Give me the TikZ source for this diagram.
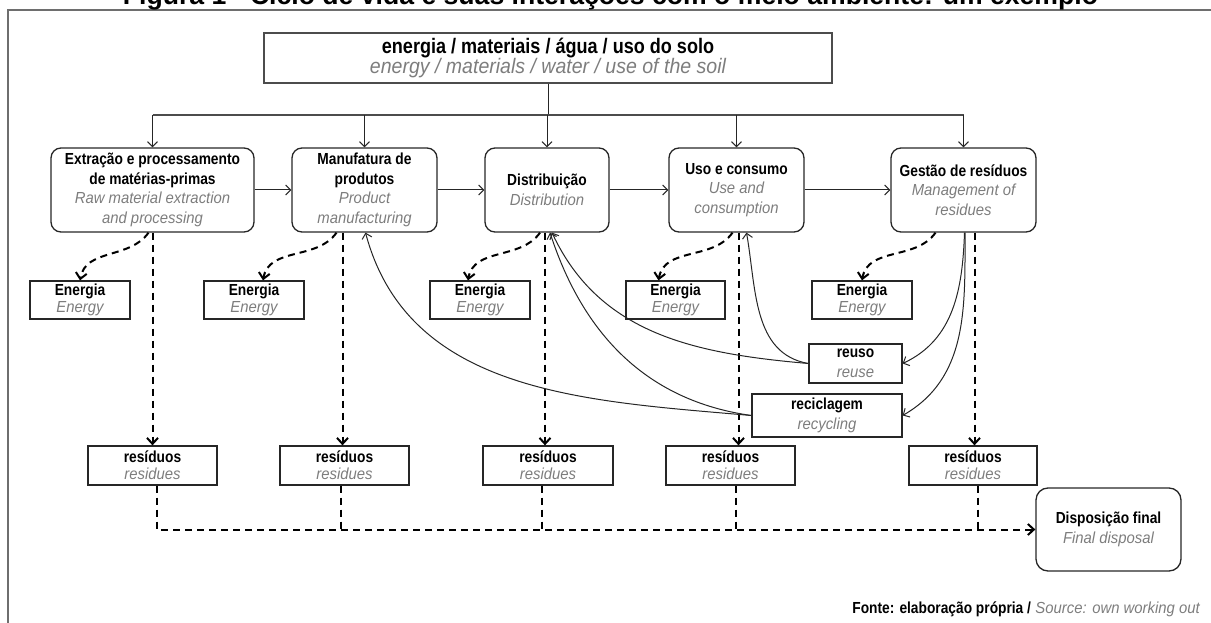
\documentclass[tikz,border=0pt]{standalone}
\usepackage{fontspec}
\usetikzlibrary{arrows.meta}
\setmainfont{Liberation Sans}
\newfontfamily\pfont{Liberation Sans}[FakeStretch=0.86]
\newfontfamily\efontfam{Liberation Sans}[FakeStretch=0.93]
\definecolor{engray}{RGB}{125,125,125}
\definecolor{framegray}{RGB}{110,110,110}
\newcommand\ptx[1]{{\pfont\bfseries #1}}
\newcommand\enx[1]{{\efontfam\itshape\color{engray}#1}}
\begin{document}
\begin{tikzpicture}[x=1pt,y=-1pt,
  nbox/.style={draw=black!85, line width=1.3pt, inner sep=0pt, align=center,
    font=\fontsize{16}{19.5}\selectfont},
  mbox/.style={nbox, rounded corners=10pt, minimum height=84pt},
  ebox/.style={nbox, minimum height=38pt, font=\fontsize{16}{17}\selectfont},
  rbox/.style={nbox, minimum height=39pt, font=\fontsize{16}{17}\selectfont},
  arr/.style={draw=black!85, line width=1pt, -{Straight Barb[length=5pt,width=10pt]}},
  dline/.style={draw=black, line width=2pt, dash pattern=on 7pt off 5pt},
  darr/.style={dline, -{Straight Barb[length=6pt,width=11pt]}}]
\useasboundingbox (0,0) rectangle (1211,623);
% frame
\draw[framegray, line width=1.5pt] (8,623) -- (8,10) -- (1211,10);
% title (partly cut off at the top)
\node[anchor=base, inner sep=0pt, font=\bfseries\fontsize{26.6}{30}\selectfont] (title) at (610.5,5)
  {Figura 1 - Ciclo de vida e suas interações com o meio ambiente: um exemplo};
% top box
\node[nbox, draw=black!70, minimum width=568pt, minimum height=50pt, font=\fontsize{21}{20}\selectfont] (top) at (548,58)
  {\ptx{energia / materiais / água / uso do solo}\\\enx{energy / materials / water / use of the soil}};
% main boxes
\node[mbox, minimum width=203pt] (A) at (152.5,190)
  {\ptx{Extração e processamento}\\\ptx{de matérias-primas}\\\enx{Raw material extraction}\\\enx{and processing}};
\node[mbox, minimum width=145pt] (B) at (364.5,190)
  {\ptx{Manufatura de}\\\ptx{produtos}\\\enx{Product}\\\enx{manufacturing}};
\node[mbox, minimum width=124pt] (C) at (547,190)
  {\ptx{Distribuição}\\\enx{Distribution}};
\node[mbox, minimum width=135pt] (D) at (736.5,190)
  {\ptx{Uso e consumo}\\\enx{Use and}\\\enx{consumption}};
\node[mbox, minimum width=145pt] (E) at (963.5,190)
  {\ptx{Gestão de resíduos}\\\enx{Management of}\\\enx{residues}};
% energy boxes
\node[ebox, minimum width=100pt] (E1) at (80,300) {\ptx{Energia}\\\enx{Energy}};
\node[ebox, minimum width=100pt] (E2) at (254,300) {\ptx{Energia}\\\enx{Energy}};
\node[ebox, minimum width=100pt] (E3) at (480,300) {\ptx{Energia}\\\enx{Energy}};
\node[ebox, minimum width=99pt] (E4) at (675.5,300) {\ptx{Energia}\\\enx{Energy}};
\node[ebox, minimum width=100pt] (E5) at (862,300) {\ptx{Energia}\\\enx{Energy}};
% residue boxes
\node[rbox, minimum width=129pt] (R1) at (152.5,465.5) {\ptx{resíduos}\\\enx{residues}};
\node[rbox, minimum width=129pt] (R2) at (344.5,465.5) {\ptx{resíduos}\\\enx{residues}};
\node[rbox, minimum width=130pt] (R3) at (548,465.5) {\ptx{resíduos}\\\enx{residues}};
\node[rbox, minimum width=129pt] (R4) at (730.5,465.5) {\ptx{resíduos}\\\enx{residues}};
\node[rbox, minimum width=128pt] (R5) at (973,465.5) {\ptx{resíduos}\\\enx{residues}};
% reuse / recycling
\node[nbox, minimum width=93pt, minimum height=39pt] (reuso) at (855.5,363.5) {\ptx{reuso}\\\enx{reuse}};
\node[nbox, minimum width=150pt, minimum height=43pt] (recic) at (827,415.5) {\ptx{reciclagem}\\\enx{recycling}};
% final disposal
\node[nbox, rounded corners=12pt, minimum width=145pt, minimum height=83pt] (disp) at (1108.5,529.5)
  {\ptx{Disposição final}\\\enx{Final disposal}};
% source
\node[anchor=base east, inner sep=0pt, font=\fontsize{16}{17}\selectfont] (src) at (1200,613)
  {\ptx{Fonte: elaboração própria /} \enx{Source: own working out}};
% distribution from top box
\coordinate (hub) at (548,115);
\draw[draw=black!85, line width=1pt] (top.south) -- (hub);
\draw[draw=black!70, line width=1.4pt] (A.north |- hub) -- (E.north |- hub);
\foreach \n in {A,B,C,D,E} \draw[arr] (\n.north |- hub) -- (\n.north);
% flow between main boxes
\draw[arr] (A.east) -- (B.west);
\draw[arr] (B.east) -- (C.west);
\draw[arr] (C.east) -- (D.west);
\draw[arr] (D.east) -- (E.west);
% energy (dashed curves)
\draw[darr] ([xshift=-4pt]A.south) to[out=-125,in=80] (E1.north);
\draw[darr] ([xshift=-28pt]B.south) to[out=-125,in=80] ([xshift=9pt]E2.north);
\draw[darr] ([xshift=-7pt]C.south) to[out=-125,in=80] ([xshift=-12pt]E3.north);
\draw[darr] ([xshift=-4pt]D.south) to[out=-125,in=80] ([xshift=-17pt]E4.north);
\draw[darr] ([xshift=-28pt]E.south) to[out=-125,in=80] (E5.north);
% residues (dashed)
\draw[darr] (A.south) -- (A.south |- R1.north);
\draw[darr] ([xshift=-22pt]B.south) -- ([xshift=-22pt]B.south |- R2.north);
\draw[darr] ([xshift=-2pt]C.south) -- ([xshift=-2pt]C.south |- R3.north);
\draw[darr] ([xshift=2pt]D.south) -- ([xshift=2pt]D.south |- R4.north);
\draw[darr] ([xshift=11pt]E.south) -- ([xshift=11pt]E.south |- R5.north);
% to final disposal
\draw[darr] ([xshift=4.5pt]R1.south) |- (disp.west);
\draw[dline] ([xshift=-3.5pt]R2.south) -- ([xshift=-3.5pt]R2.south |- disp.west);
\draw[dline] ([xshift=-6pt]R3.south) -- ([xshift=-6pt]R3.south |- disp.west);
\draw[dline] ([xshift=5.5pt]R4.south) -- ([xshift=5.5pt]R4.south |- disp.west);
\draw[dline] ([xshift=5pt]R5.south) -- ([xshift=5pt]R5.south |- disp.west);
% reuse and recycling loops
\draw[arr] ([xshift=1pt]E.south) to[out=-92,in=25] (reuso.east);
\draw[arr] ([xshift=1.5pt]E.south) to[out=-90,in=30] (recic.east);
\draw[arr] (reuso.west) to[out=170,in=-80] ([xshift=10pt]D.south);
\draw[arr] (reuso.west) to[out=175,in=-65] ([xshift=5pt]C.south);
\draw[arr] (recic.west) to[out=172,in=-72] ([xshift=3pt]C.south);
\draw[arr] (recic.west) to[out=175,in=-75] ([xshift=1pt]B.south);
\end{tikzpicture}
\end{document}
